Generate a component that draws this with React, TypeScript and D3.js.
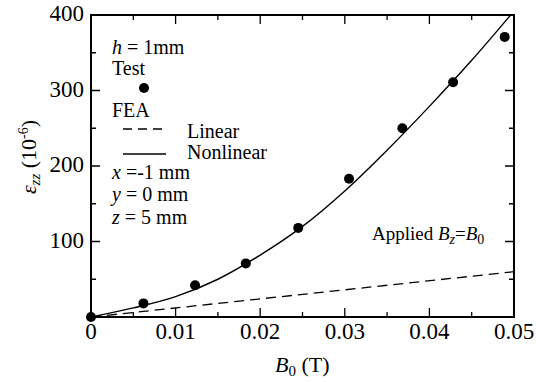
import * as d3 from 'd3';

// measured test points (B0 in T, strain in 1e-6)
const testB = [0, 0.0062, 0.0123, 0.0183, 0.0245, 0.0305, 0.0368, 0.0428, 0.0489];
const testStrain = [0, 18, 42, 71, 118, 183, 250, 311, 371];

// FEA nonlinear curve
const nonlinB = [0, 0.005, 0.01, 0.015, 0.02, 0.025, 0.03, 0.035, 0.04, 0.045, 0.0496];
const nonlinStrain = [0, 12, 27, 50, 82, 120, 167, 221, 279, 340, 400];

// FEA linear
const linB = [0, 0.05];
const linStrain = [0, 60];

const xTicks = [0, 0.01, 0.02, 0.03, 0.04, 0.05];
const xTickLabels = ['0', '0.01', '0.02', '0.03', '0.04', '0.05'];
const xMinor = [0.005, 0.015, 0.025, 0.035, 0.045];
const yTicks = [100, 200, 300, 400];
const yTickLabels = ['100', '200', '300', '400'];
const yMinor = [50, 150, 250, 350];

const W = 536;
const H = 382;
const serif = { fontFamily: "'Liberation Serif', serif" };
const it = { fontStyle: 'italic' as const };

const m = { left: 91, right: 514, top: 15, bottom: 317 };
const x = d3.scaleLinear([0, 0.05], [m.left, m.right]);
const y = d3.scaleLinear([0, 400], [m.bottom, m.top]);

const line = d3.line<[number, number]>().x((d) => x(d[0])).y((d) => y(d[1]));

const App = () => {
  const ticks =
    xTicks.slice(1, -1).map((v) => `M${x(v)},${m.bottom}v-9M${x(v)},${m.top}v9`).join('') +
    xMinor.map((v) => `M${x(v)},${m.bottom}v-5M${x(v)},${m.top}v5`).join('') +
    yTicks.slice(0, -1).map((v) => `M${m.left},${y(v)}h9M${m.right},${y(v)}h-9`).join('') +
    yMinor.map((v) => `M${m.left},${y(v)}h5M${m.right},${y(v)}h-5`).join('');

  const nonlinPath = line.curve(d3.curveCatmullRom)(nonlinB.map((b, i) => [b, nonlinStrain[i]]));
  const linPath = line.curve(d3.curveLinear)(linB.map((b, i) => [b, linStrain[i]]));

  return (
    <svg
      width={W}
      height={H}
      viewBox={`0 0 ${W} ${H}`}
      style={{ position: 'absolute', left: 0, top: 0, background: '#fff', ...serif }}
    >
      <path d={ticks} stroke="#000" strokeWidth={1.3} fill="none" />
      <rect
        x={m.left}
        y={m.top}
        width={m.right - m.left}
        height={m.bottom - m.top}
        fill="none"
        stroke="#000"
        strokeWidth={2}
      />

      {xTicks.map((v, i) => (
        <text key={v} x={x(v)} y={339} textAnchor="middle" style={{ ...serif, fontSize: '23px' }}>
          {xTickLabels[i]}
        </text>
      ))}
      {yTicks.map((v, i) => (
        <text key={v} x={84} y={y(v) + 6} textAnchor="end" style={{ ...serif, fontSize: '23px' }}>
          {yTickLabels[i]}
        </text>
      ))}

      {/* axis titles */}
      <text x={275} y={372} style={{ ...serif, fontSize: '22px' }}>
        <tspan style={it}>B</tspan>
        <tspan dy={4} style={{ fontSize: '15px' }}>0</tspan>
        <tspan dy={-4}> (T)</tspan>
      </text>
      <text transform="translate(36,157) rotate(-90)" textAnchor="middle" style={{ ...serif, fontSize: '22px' }}>
        <tspan style={it}>ε</tspan>
        <tspan dy={4} style={{ ...it, fontSize: '15px' }}>zz</tspan>
        <tspan dy={-4}> (10</tspan>
        <tspan dy={-8} style={{ fontSize: '14px' }}>-6</tspan>
        <tspan dy={8}>)</tspan>
      </text>

      {/* curves */}
      <path d={nonlinPath ?? ''} fill="none" stroke="#000" strokeWidth={1.4} />
      <path d={linPath ?? ''} fill="none" stroke="#000" strokeWidth={1.3} strokeDasharray="10,6" />

      {testB.map((b, i) => (
        <circle key={i} cx={x(b)} cy={y(testStrain[i])} r={5} fill="#000" />
      ))}

      {/* legend */}
      <g style={{ ...serif, fontSize: '20px' }}>
        <text x={112} y={54}>
          <tspan style={it}>h</tspan> = 1mm
        </text>
        <text x={112} y={75}>Test</text>
        <circle cx={144} cy={88} r={5} fill="#000" />
        <text x={112} y={117}>FEA</text>
        <line x1={123} x2={166} y1={129} y2={129} stroke="#000" strokeWidth={1.3} strokeDasharray="9,6" />
        <text x={187} y={138}>Linear</text>
        <line x1={123} x2={166} y1={154} y2={154} stroke="#000" strokeWidth={1.4} />
        <text x={187} y={159}>Nonlinear</text>
        <text x={112} y={179}>
          <tspan style={it}>x</tspan> =-1 mm
        </text>
        <text x={112} y={201}>
          <tspan style={it}>y</tspan> = 0 mm
        </text>
        <text x={112} y={224}>
          <tspan style={it}>z</tspan> = 5 mm
        </text>
      </g>
      <text x={372} y={240} style={{ ...serif, fontSize: '19px' }}>
        Applied <tspan style={it}>B</tspan>
        <tspan dy={4} style={{ ...it, fontSize: '14px' }}>z</tspan>
        <tspan dy={-4}>=</tspan>
        <tspan style={it}>B</tspan>
        <tspan dy={4} style={{ fontSize: '14px' }}>0</tspan>
      </text>
    </svg>
  );
};

export default App;
